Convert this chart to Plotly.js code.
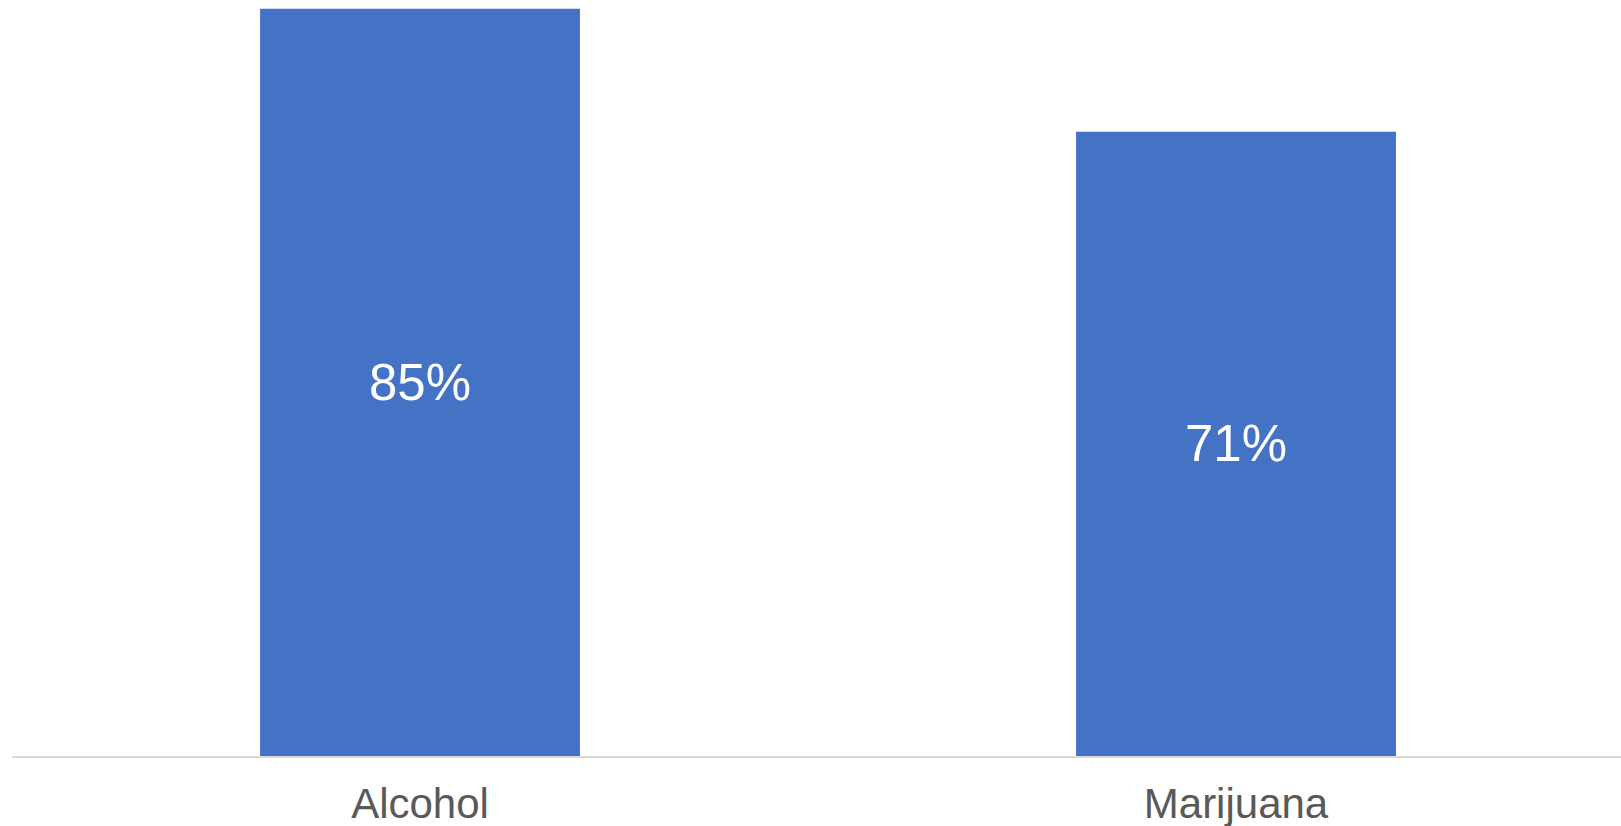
<!DOCTYPE html>
<html>
<head>
<meta charset="utf-8">
<script src="https://cdn.plot.ly/plotly-3.0.1.min.js"></script>
<style>
  html, body { margin: 0; padding: 0; background: #ffffff; }
  #chart { width: 1621px; height: 826px; }
</style>
</head>
<body>
<div id="chart"></div>
<script>
const categories = ["Alcohol", "Marijuana"];
const values = [85, 71];
const labels = ["85%", "71%"];

const trace = {
  type: "bar",
  x: categories,
  y: values,
  text: labels,
  texttemplate: "%{text}",
  textposition: "inside",
  insidetextanchor: "middle",
  textangle: 0,
  textfont: { family: "Liberation Sans, Arial, sans-serif", size: 51, color: "#ffffff" },
  marker: { color: "#4472C4", line: { width: 0 } },
  width: 0.392,
  hoverinfo: "none"
};

const layout = {
  width: 1621,
  height: 826,
  margin: { l: 12, r: 0, t: 0, b: 70 },
  paper_bgcolor: "#ffffff",
  plot_bgcolor: "#ffffff",
  showlegend: false,
  xaxis: {
    type: "category",
    range: [-0.5, 1.4718],
    showline: true,
    linecolor: "#d9d9d9",
    linewidth: 2,
    showgrid: false,
    zeroline: false,
    ticks: "",
    ticklabelstandoff: 10,
    tickfont: { family: "Liberation Sans, Arial, sans-serif", size: 42, color: "#595959" },
    fixedrange: true
  },
  yaxis: {
    range: [0, 86],
    visible: false,
    showgrid: false,
    zeroline: false,
    fixedrange: true
  }
};

Plotly.newPlot("chart", [trace], layout, { displayModeBar: false, staticPlot: true });
</script>
</body>
</html>
